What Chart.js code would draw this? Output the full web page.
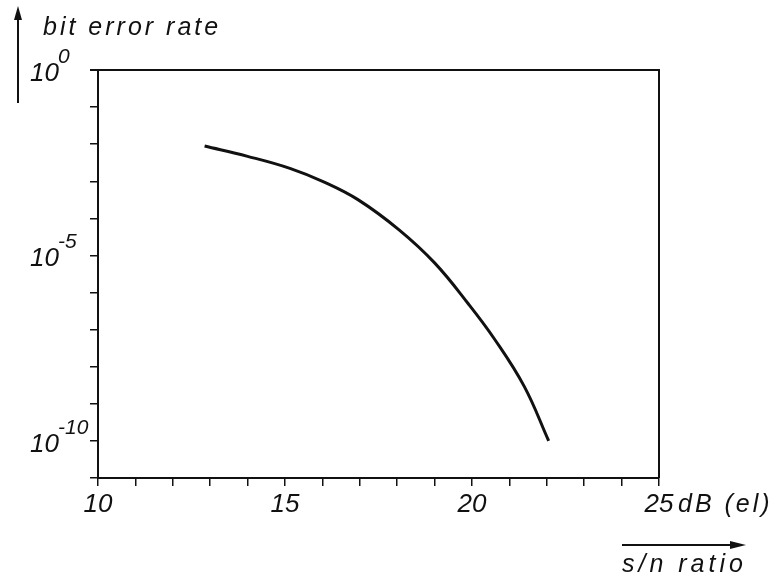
<!DOCTYPE html>
<html>
<head>
<meta charset="utf-8">
<script src="https://cdn.jsdelivr.net/npm/chart.js@4"></script>
<style>
  html, body { margin: 0; padding: 0; background: #fff; }
  #wrap { width: 774px; height: 577px; }
</style>
</head>
<body>
<div id="wrap"><canvas id="ber"></canvas></div>
<script>
// s/n ratio in dB(el) and bit error rate
const snr = [12.85, 14.0, 15.15, 16.05, 16.95, 18.05, 19.0, 19.9, 20.6, 21.4, 22.05];
const ber = [8.9e-3, 4.7e-3, 2.2e-3, 9.5e-4, 3.2e-4, 4.9e-5, 6.3e-6, 5.0e-7, 5.6e-8, 2.9e-9, 1e-10];

const xMin = 10, xMax = 25;
const xLabels = [10, 15, 20, 25];
const xUnit = 'dB (el)';
const yDecades = [0, -1, -2, -3, -4, -5, -6, -7, -8, -9, -10, -11];
const yLabels = [0, -5, -10];
const yTitle = 'bit error rate';
const xTitle = 's/n ratio';

const ink = '#111';
const italic = (px) => 'italic ' + px + 'px "Liberation Sans", Arial, sans-serif';

const annotate = {
    id: 'annotate',
    afterDraw(chart) {
        const ctx = chart.ctx;
        const area = chart.chartArea;
        const x = chart.scales.x;
        const y = chart.scales.y;
        ctx.save();
        ctx.fillStyle = ink;
        ctx.strokeStyle = ink;

        // top and right border of the frame
        ctx.lineWidth = 2;
        ctx.beginPath();
        ctx.moveTo(area.left - 8, area.top);
        ctx.lineTo(area.right, area.top);
        ctx.lineTo(area.right, area.bottom);
        ctx.stroke();

        // x tick labels
        ctx.font = italic(26);
        ctx.textBaseline = 'alphabetic';
        ctx.textAlign = 'center';
        for (const v of xLabels) {
            ctx.fillText(String(v), x.getPixelForValue(v), area.bottom + 34);
        }
        ctx.textAlign = 'left';
        ctx.font = italic(25);
        ctx.letterSpacing = '3px';
        ctx.fillText(xUnit, x.getPixelForValue(xMax) + 19, area.bottom + 34);

        // y tick labels as powers of ten
        for (const e of yLabels) {
            const py = y.getPixelForValue(Math.pow(10, e));
            ctx.letterSpacing = '0px';
            ctx.font = italic(26);
            ctx.textAlign = 'right';
            ctx.fillText('10', 59, py + 11);
            ctx.font = italic(21);
            ctx.textAlign = 'left';
            ctx.fillText(String(e), 58, py - 7);
        }

        // axis titles with arrows
        ctx.textAlign = 'left';
        ctx.font = italic(25);
        ctx.letterSpacing = '3px';
        ctx.fillText(yTitle, 43, 35);
        ctx.letterSpacing = '4px';
        ctx.fillText(xTitle, 622, 572);

        ctx.lineWidth = 2;
        ctx.beginPath();
        ctx.moveTo(18, 103);
        ctx.lineTo(18, 18);
        ctx.stroke();
        ctx.beginPath();
        ctx.moveTo(18, 6);
        ctx.lineTo(14, 20);
        ctx.lineTo(22, 20);
        ctx.closePath();
        ctx.fill();

        ctx.beginPath();
        ctx.moveTo(622, 545);
        ctx.lineTo(732, 545);
        ctx.stroke();
        ctx.beginPath();
        ctx.moveTo(746, 545);
        ctx.lineTo(730, 541);
        ctx.lineTo(730, 549);
        ctx.closePath();
        ctx.fill();

        ctx.restore();
    }
};

new Chart(document.getElementById('ber').getContext('2d'), {
    type: 'line',
    data: {
        datasets: [{
            data: snr.map((s, i) => ({ x: s, y: ber[i] })),
            borderColor: ink,
            borderWidth: 3,
            radius: 0,
            fill: false,
            tension: 0.4,
        }]
    },
    options: {
        animation: false,
        responsive: true,
        maintainAspectRatio: false,
        layout: {
            padding: { left: 90, top: 70, right: 115, bottom: 91 },
        },
        plugins: {
            legend: { display: false },
            tooltip: { enabled: false },
        },
        scales: {
            x: {
                type: 'linear',
                min: xMin,
                max: xMax,
                afterFit: (scale) => { scale.height = 8; },
                ticks: {
                    stepSize: 1,
                    display: false,
                },
                grid: {
                    drawOnChartArea: false,
                    drawTicks: true,
                    tickLength: 8,
                    color: ink,
                    lineWidth: 1.5,
                },
                border: { color: ink, width: 2 },
            },
            y: {
                type: 'logarithmic',
                min: Math.pow(10, yDecades[yDecades.length - 1]),
                max: Math.pow(10, yDecades[0]),
                afterBuildTicks: (scale) => {
                    scale.ticks = yDecades.map(e => ({ value: Math.pow(10, e) }));
                },
                afterFit: (scale) => { scale.width = 8; },
                ticks: { display: false },
                grid: {
                    drawOnChartArea: false,
                    drawTicks: true,
                    tickLength: 8,
                    color: ink,
                    lineWidth: 1.5,
                },
                border: { color: ink, width: 2 },
            },
        },
    },
    plugins: [annotate],
});
</script>
</body>
</html>
